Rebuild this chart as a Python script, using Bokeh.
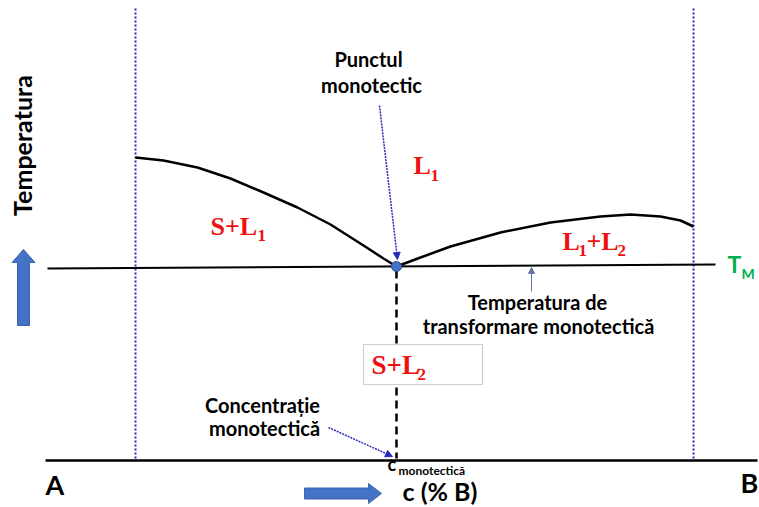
import numpy as np
from bokeh.plotting import figure
from bokeh.models import Range1d, Arrow, NormalHead
from bokeh.core.properties import value
from bokeh.embed import file_html
from bokeh.resources import INLINE

# ---- diagram data (reference-picture coordinates, y grows downward) ----
comp_x = [135, 693]                 # pure A and pure B (dotted verticals)
comp_top = 8
base_y = 460                        # concentration axis
base_x = [45, 757]
tm_x = [47, 715]                    # monotectic temperature T_M
tm_y = [268, 264]
mono_c, mono_t = 396, 266           # monotectic point
liq_x = [135, 163, 197, 230, 263, 297, 330, 363, 383, 396]
liq_y = [157, 160, 167, 178, 192, 207, 224, 245, 258, 266]
gap_x = [396, 420, 450, 500, 550, 600, 630, 660, 680, 693]
gap_y = [266, 257, 246, 232, 222, 216, 214, 216, 220, 226]

SANS = value("Lato")
SERIF = value("Liberation Serif")
RED = "#ee1111"
GREEN = "#00b050"
DOT_BLUE = "#2a2ab8"
ARROW_BLUE = "#4472c4"

p = figure(width=759, height=507, x_range=Range1d(0, 759), y_range=Range1d(507, 0),
           output_backend="svg", toolbar_location=None, min_border=0,
           x_axis_type=None, y_axis_type=None, outline_line_color=None)
p.grid.visible = False

# dotted component verticals
for cx in comp_x:
    p.line([cx, cx], [comp_top, base_y], line_color=DOT_BLUE, line_width=2, line_dash="2 2")

# axis line
p.line(base_x, [base_y, base_y], line_color="black", line_width=2.5)
# T_M line
p.line(tm_x, tm_y, line_color="black", line_width=2)
# curves
p.line(liq_x, liq_y, line_color="black", line_width=2.5)
p.line(gap_x, gap_y, line_color="black", line_width=2.5)
# dashed monotectic composition
p.line([mono_c, mono_c], [mono_t + 4, base_y - 2], line_color="black", line_width=2.5, line_dash="8 5")

# box with S+L2
p.quad(left=[363], right=[482], top=[344], bottom=[384], fill_color="white",
       line_color="#cfcfcf", line_width=1.2)

# monotectic point
p.scatter([mono_c], [mono_t], size=10, fill_color=ARROW_BLUE, line_color="#2f528f", line_width=1)

# pointer arrows
p.add_layout(Arrow(x_start=379, y_start=105, x_end=mono_c + 1, y_end=mono_t - 7,
                   line_color=DOT_BLUE, line_width=1.5, line_dash="2 1",
                   end=NormalHead(size=7, fill_color=DOT_BLUE, line_color=DOT_BLUE)))
p.add_layout(Arrow(x_start=328, y_start=427, x_end=mono_c - 4, y_end=base_y - 4,
                   line_color=DOT_BLUE, line_width=1.5, line_dash="2 1",
                   end=NormalHead(size=7, fill_color=DOT_BLUE, line_color=DOT_BLUE)))
p.add_layout(Arrow(x_start=531, y_start=291, x_end=531, y_end=267,
                   line_color="#6672a8", line_width=1,
                   end=NormalHead(size=6, fill_color="#6672a8", line_color="#6672a8")))

# block arrows
def block_arrow(tip, tail, shaft_hw, head_hw, head_len, vertical):
    if vertical:
        tx, ty = tip
        by = tail
        hb = ty + head_len
        xs = [tx, tx + head_hw, tx + shaft_hw, tx + shaft_hw, tx - shaft_hw, tx - shaft_hw, tx - head_hw]
        ys = [ty, hb, hb, by, by, hb, hb]
    else:
        tx, ty = tip
        bx = tail
        hb = tx - head_len
        xs = [tx, hb, hb, bx, bx, hb, hb]
        ys = [ty, ty - head_hw, ty - shaft_hw, ty - shaft_hw, ty + shaft_hw, ty + shaft_hw, ty + head_hw]
    return xs, ys

ux, uy = block_arrow((23, 249), 325, 6, 11.5, 13, True)
rx, ry = block_arrow((381, 493), 304, 5.5, 10, 13, False)
p.patch(ux, uy, fill_color=ARROW_BLUE, line_color="#3b65b3", line_width=1)
p.patch(rx, ry, fill_color=ARROW_BLUE, line_color="#3b65b3", line_width=1)

# ---- texts ----
# y is the visual baseline in the reference; compensate the renderer's baseline offset
def t(x, y, s, size, font=SANS, color="black", align="left", style="bold", baseline="alphabetic", angle=0):
    if baseline == "alphabetic":
        k = 0.39 if font == SANS else 0.35
        y = y - k * size
    p.text([x], [y], text=[s], text_font=font, text_font_size=f"{size}px",
           text_font_style=style, text_color=color, text_align=align,
           text_baseline=baseline, angle=angle)

t(21, 145, "Temperatura", 25, align="center", baseline="middle", angle=np.pi / 2)
t(368, 66, "Punctul", 20, align="center")
t(371, 92, "monotectic", 20, align="center")
t(537, 309, "Temperatura de", 20, align="center")
t(538, 333, "transformare monotectică", 20, align="center")
t(262, 412, "Concentrație", 20, align="center")
t(264, 435, "monotectică", 20, align="center")
t(387, 471, "c", 18)
t(398, 475, "monotectică", 12)
t(402, 500, "c (% B)", 25)
t(45, 495, "A", 27)
t(740, 493, "B", 27)
t(727, 272, "T", 23, color=GREEN)
t(741, 278, "M", 14, color=GREEN)

# red phase labels (serif, subscripts)
t(413, 174, "L", 26, font=SERIF, color=RED)
t(430, 181, "1", 17, font=SERIF, color=RED)
t(210, 235, "S+L", 26, font=SERIF, color=RED)
t(257, 241, "1", 17, font=SERIF, color=RED)
t(562, 250, "L", 26, font=SERIF, color=RED)
t(578, 256, "1", 17, font=SERIF, color=RED)
t(586, 250, "+L", 26, font=SERIF, color=RED)
t(617, 256, "2", 17, font=SERIF, color=RED)
t(371, 374, "S+L", 27, font=SERIF, color=RED)
t(417, 380, "2", 17, font=SERIF, color=RED)

open("out.html", "w").write(file_html(p, INLINE))
